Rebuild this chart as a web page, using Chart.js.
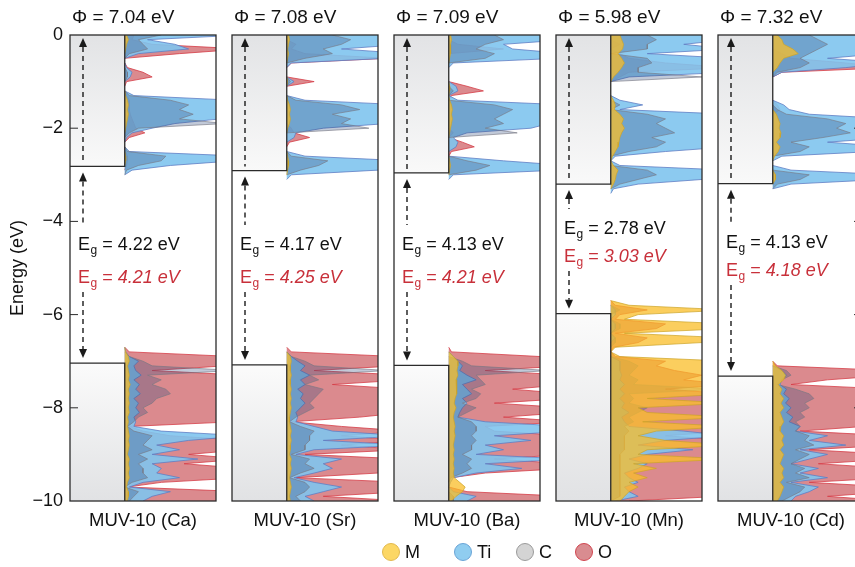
<!DOCTYPE html>
<html>
<head>
<meta charset="utf-8">
<script src="https://cdn.jsdelivr.net/npm/chart.js@4.4.1/dist/chart.umd.min.js"></script>
<style>
  body { margin: 0; width: 855px; height: 567px; overflow: hidden; position: relative; background: #fff;
         font-family: "Liberation Sans", Arial, Helvetica, sans-serif; color: #111; }
  canvas { position: absolute; top: 0; }
  .lg { position: absolute; top: 541px; height: 22px; line-height: 22px; font-size: 18px; display: flex; align-items: center; }
  .dot { display: inline-block; width: 16px; height: 16px; border-radius: 50%; border: 1.5px solid; margin-right: 5px; }
</style>
</head>
<body>
<canvas id="p0" width="218" height="567" style="left:0px"></canvas>
<canvas id="p1" width="150" height="567" style="left:230px"></canvas>
<canvas id="p2" width="150" height="567" style="left:392px"></canvas>
<canvas id="p3" width="150" height="567" style="left:554px"></canvas>
<canvas id="p4" width="150" height="567" style="left:716px"></canvas>

<div class="lg" style="left:382px"><span class="dot" style="background:#fcd765;border-color:#e2b94f"></span>M</div>
<div class="lg" style="left:454px"><span class="dot" style="background:#90cdf0;border-color:#6aa4d6"></span>Ti</div>
<div class="lg" style="left:516px"><span class="dot" style="background:#d4d4d4;border-color:#9a9a9a"></span>C</div>
<div class="lg" style="left:575px"><span class="dot" style="background:#d98c90;border-color:#d0454f"></span>O</div>

<script>
const FONT = '"Liberation Sans", Arial, Helvetica, sans-serif';

// energy grid (eV), shared by every DOS series
const energy = [
  0, -0.1, -0.2, -0.3, -0.4, -0.5, -0.6, -0.7, -0.8, -0.9,
  -1, -1.1, -1.2, -1.3, -1.4, -1.5, -1.6, -1.7, -1.8, -1.9,
  -2, -2.1, -2.2, -2.3, -2.4, -2.5, -2.6, -2.7, -2.8, -2.9,
  -3, -3.1, -3.2, -3.3, -3.4, -3.5, -3.6, -3.7, -3.8, -3.9,
  -4, -4.1, -4.2, -4.3, -4.4, -4.5, -4.6, -4.7, -4.8, -4.9,
  -5, -5.1, -5.2, -5.3, -5.4, -5.5, -5.6, -5.7, -5.8, -5.9,
  -6, -6.1, -6.2, -6.3, -6.4, -6.5, -6.6, -6.7, -6.8, -6.9,
  -7, -7.1, -7.2, -7.3, -7.4, -7.5, -7.6, -7.7, -7.8, -7.9,
  -8, -8.1, -8.2, -8.3, -8.4, -8.5, -8.6, -8.7, -8.8, -8.9,
  -9, -9.1, -9.2, -9.3, -9.4, -9.5, -9.6, -9.7, -9.8, -9.9,
  -10
];

const panelNames = ['MUV-10 (Ca)', 'MUV-10 (Sr)', 'MUV-10 (Ba)', 'MUV-10 (Mn)', 'MUV-10 (Cd)'];
const workFunction = [7.04, 7.08, 7.09, 5.98, 7.32];
const gapCalc = [4.22, 4.17, 4.13, 2.78, 4.13];
const gapExp = [4.21, 4.25, 4.21, 3.03, 4.18];
const vbEdge = [-7.04, -7.08, -7.09, -5.98, -7.32];
const cbEdge = [-2.82, -2.91, -2.96, -3.20, -3.19];
const yTicks = [0, -2, -4, -6, -8, -10];

// projected DOS (arbitrary units, 100 = full panel width)
const caM = [
  2,4,2,1,0,0,0,0,0,0, 0,0,0,1,3,4,3,4,3,2, 1,0,0,0,0,0,1,1,0,0,
  0,0,0,0,0,0,0,0,0,0, 0,0,0,0,0,0,0,0,0,0, 0,0,0,0,0,0,0,0,0,0,
  0,0,0,0,0,0,0,0,1,4, 5,3,4,5,4,6,4,5,4,5, 4,5,3,4,3,4,5,4,5,4,
  3,5,4,5,4,5,3,2,4,4, 3];
const caTi = [
  130,25,55,70,15,0,0,2,8,6, 0,0,0,10,120,130,125,110,105,55, 30,8,2,0,0,5,130,120,50,8,
  0,0,0,0,0,0,0,0,0,0, 0,0,0,0,0,0,0,0,0,0, 0,0,0,0,0,0,0,0,0,0,
  0,0,0,0,0,0,0,0,1,5, 15,10,12,18,10,16,12,17,10,15, 12,16,10,12,10,40,130,70,35,60,
  30,80,30,40,35,60,20,5,50,30, 20];
const caC = [
  40,15,20,25,5,0,0,0,3,3, 0,0,0,5,50,70,60,75,60,110, 15,5,0,0,0,3,45,40,15,2,
  0,0,0,0,0,0,0,0,0,0, 0,0,0,0,0,0,0,0,0,0, 0,0,0,0,0,0,0,0,0,0,
  0,0,0,0,0,0,0,0,0,5, 20,30,120,25,40,30,45,50,35,30, 20,25,15,10,3,10,30,25,20,30,
  15,25,15,20,20,25,8,0,15,10, 5];
const caO = [
  10,8,30,130,60,0,0,3,20,30, 2,0,0,2,5,5,5,6,8,10, 12,22,5,0,0,1,3,3,2,0,
  0,0,0,0,0,0,0,0,0,0, 0,0,0,0,0,0,0,0,0,0, 0,0,0,0,0,0,0,0,0,0,
  0,0,0,0,0,0,0,0,5,120, 130,110,30,130,130,130,130,130,130,130, 130,130,130,120,5,20,50,130,130,130,
  70,130,65,130,130,130,40,3,130,130, 130];

const srM = [
  2,3,2,1,2,1,0,0,0,0, 1,0,0,0,1,3,4,3,4,3, 1,0,0,0,0,0,1,2,2,1,
  0,0,0,0,0,0,0,0,0,0, 0,0,0,0,0,0,0,0,0,0, 0,0,0,0,0,0,0,0,0,0,
  0,0,0,0,0,0,0,0,0,4, 5,4,4,5,4,4,5,4,5,4, 5,4,3,3,4,5,4,5,4,4,
  3,5,4,5,4,3,4,5,4,3, 4];
const srTi = [
  130,130,130,60,130,110,5,0,0,0, 8,0,0,0,20,130,130,120,130,110, 40,10,8,0,0,0,20,130,130,100,
  5,0,0,0,0,0,0,0,0,0, 0,0,0,0,0,0,0,0,0,0, 0,0,0,0,0,0,0,0,0,0,
  0,0,0,0,0,0,0,0,0,5, 12,20,15,25,15,20,12,18,15,20, 15,10,12,10,30,50,130,40,130,30,
  10,60,40,50,30,8,30,60,40,20, 30];
const srC = [
  50,70,60,40,50,20,0,0,0,0, 4,0,0,0,10,60,80,50,70,60, 90,0,0,0,0,0,5,45,35,15,
  0,0,0,0,0,0,0,0,0,0, 0,0,0,0,0,0,0,0,0,0, 0,0,0,0,0,0,0,0,0,0,
  0,0,0,0,0,0,0,0,0,5, 20,30,110,25,35,20,40,35,30,25, 30,20,10,3,15,30,25,25,20,20,
  5,25,20,30,15,3,20,25,20,10, 15];
const srO = [
  0,0,10,5,20,110,5,0,0,0, 30,0,0,0,0,0,0,0,0,0, 5,8,25,3,0,0,0,0,0,0,
  0,0,0,0,0,0,0,0,0,0, 0,0,0,0,0,0,0,0,0,0, 0,0,0,0,0,0,0,0,0,0,
  0,0,0,0,0,0,0,0,5,120, 130,120,30,130,130,50,130,130,130,130, 130,130,80,5,60,130,60,130,60,130,
  20,130,130,130,100,10,130,130,130,40, 130];

const baM = [
  2,3,2,2,2,1,0,0,0,0, 0,1,1,0,1,3,4,3,4,3, 2,1,0,0,0,0,0,1,2,1,
  0,0,0,0,0,0,0,0,0,0, 0,0,0,0,0,0,0,0,0,0, 0,0,0,0,0,0,0,0,0,0,
  0,0,0,0,0,0,0,0,0,5, 10,10,9,10,8,9,8,9,7,6, 8,6,5,6,7,6,7,6,5,6,
  5,6,5,6,5,6,12,18,15,8, 3];
const baTi = [
  130,130,60,70,130,120,5,0,0,0, 0,8,10,0,10,130,130,125,130,110, 90,20,5,10,8,0,0,60,130,120,
  5,0,0,0,0,0,0,0,0,0, 0,0,0,0,0,0,0,0,0,0, 0,0,0,0,0,0,0,0,0,0,
  0,0,0,0,0,0,0,0,0,5, 10,15,12,20,30,15,20,25,15,20, 15,12,10,40,130,130,50,90,40,60,
  30,130,40,80,30,5,2,0,5,30, 20];
const baC = [
  50,60,40,30,50,40,0,0,0,0, 0,0,5,0,0,50,70,60,50,60, 40,75,0,0,0,0,0,20,45,30,
  0,0,0,0,0,0,0,0,0,0, 0,0,0,0,0,0,0,0,0,0, 0,0,0,0,0,0,0,0,0,0,
  0,0,0,0,0,0,0,0,0,0, 15,25,110,30,35,40,25,35,30,15, 30,20,10,25,30,30,25,30,25,25,
  15,25,20,25,15,2,0,0,0,5, 5];
const baO = [
  0,0,10,60,0,0,0,0,0,0, 0,20,38,3,0,0,0,0,0,0, 0,5,0,15,28,3,0,0,0,0,
  0,0,0,0,0,0,0,0,0,0, 0,0,0,0,0,0,0,0,0,0, 0,0,0,0,0,0,0,0,0,0,
  0,0,0,0,0,0,0,0,3,100, 130,130,40,130,130,130,70,130,130,50, 130,130,60,130,40,50,130,130,130,130,
  130,50,130,130,40,3,0,0,20,130, 130];

const mnM = [
  10,12,14,13,8,12,15,12,8,3, 0,0,0,0,3,5,4,10,14,12, 15,12,10,9,8,5,2,0,3,8,
  6,5,3,0,0,0,0,0,0,0, 0,0,0,0,0,0,0,0,0,0, 0,0,0,0,0,0,0,0,20,130,
  30,15,130,130,15,130,100,5,0,10, 130,130,130,130,130,130,130,130,40,130, 30,40,130,35,130,50,30,60,130,40,
  30,130,25,50,25,40,20,30,20,15, 10];
const mnTi = [
  120,130,80,130,40,130,130,110,130,20, 0,0,0,0,10,35,10,130,130,125, 130,130,130,120,130,60,5,0,10,130,
  130,100,30,3,0,0,0,0,0,0, 0,0,0,0,0,0,0,0,0,0, 0,0,0,0,0,0,0,0,0,5,
  5,0,5,5,0,5,0,0,0,0, 10,10,10,12,10,15,10,15,10,15, 12,20,12,15,20,80,130,60,30,90,
  40,20,40,30,15,20,30,15,20,30, 5];
const mnC = [
  40,50,40,40,0,40,45,30,30,100, 0,0,0,0,0,10,0,40,60,50, 60,70,45,60,50,20,0,0,0,40,
  50,30,10,0,0,0,0,0,0,0, 0,0,0,0,0,0,0,0,0,0, 0,0,0,0,0,0,0,0,0,10,
  0,0,10,10,0,5,5,0,0,0, 20,30,25,20,30,25,120,20,25,20, 40,30,20,25,15,20,15,15,15,15,
  10,10,10,10,10,10,10,10,10,10, 0];
const mnO = [
  0,0,10,0,10,20,60,130,20,10, 0,0,0,0,0,0,0,0,0,0, 0,0,0,0,0,0,0,0,0,0,
  0,0,0,0,0,0,0,0,0,0, 0,0,0,0,0,0,0,0,0,0, 0,0,0,0,0,0,0,0,5,40,
  10,5,60,50,5,40,30,3,0,5, 60,50,70,100,80,130,60,130,130,130, 130,130,130,130,130,130,60,130,130,130,
  130,130,130,130,130,130,130,130,130,120, 20];

const cdM = [
  5,10,12,22,28,12,8,5,0,0, 0,0,0,0,0,0,0,4,6,8, 7,9,8,4,8,6,2,0,0,0,
  3,3,0,0,0,0,0,0,0,0, 0,0,0,0,0,0,0,0,0,0, 0,0,0,0,0,0,0,0,0,0,
  0,0,0,0,0,0,0,0,0,0, 0,3,10,14,12,6,10,8,12,9, 12,8,10,12,9,8,12,10,12,8,
  12,10,8,12,10,12,8,12,10,8, 5];
const cdTi = [
  130,130,100,130,120,60,130,80,10,0, 0,0,0,0,0,12,18,40,130,125, 130,120,130,60,130,110,10,0,0,20,
  130,120,20,0,0,0,0,0,0,0, 0,0,0,0,0,0,0,0,0,0, 0,0,0,0,0,0,0,0,0,0,
  0,0,0,0,0,0,0,0,0,0, 0,0,10,15,10,8,15,12,18,14, 20,15,22,18,30,25,60,40,80,30,
  60,40,20,50,30,60,20,50,40,25, 20];
const cdC = [
  40,50,60,50,40,30,40,30,5,0, 0,0,0,0,0,0,5,15,60,80, 70,85,55,20,40,30,0,0,0,0,
  40,30,5,0,0,0,0,0,0,0, 0,0,0,0,0,0,0,0,0,0, 0,0,0,0,0,0,0,0,0,0,
  0,0,0,0,0,0,0,0,0,0, 0,0,15,20,10,5,25,40,45,35, 40,30,35,25,30,25,40,35,45,25,
  40,30,20,35,25,40,15,35,30,20, 10];
const cdO = [
  0,0,0,0,10,20,80,130,10,0, 0,0,0,0,0,5,8,0,0,0, 0,0,0,0,0,0,0,0,0,0,
  0,0,0,0,0,0,0,0,0,0, 0,0,0,0,0,0,0,0,0,0, 0,0,0,0,0,0,0,0,0,0,
  0,0,0,0,0,0,0,0,0,0, 0,5,130,130,60,20,130,130,130,130, 130,130,130,130,100,30,130,130,130,40,
  130,130,50,130,130,130,40,130,130,60, 130];

const pdos = [
  { M: caM, Ti: caTi, C: caC, O: caO },
  { M: srM, Ti: srTi, C: srC, O: srO },
  { M: baM, Ti: baTi, C: baC, O: baO },
  { M: mnM, Ti: mnTi, C: mnC, O: mnO },
  { M: cdM, Ti: cdTi, C: cdC, O: cdO }
];

// styling; first entry is drawn on top
const species = ['M', 'C', 'Ti', 'O'];
const fillColor = {
  M: 'rgba(250,190,40,0.75)',
  Ti: 'rgba(128,196,238,0.9)',
  C: 'rgba(50,75,125,0.3)',
  O: 'rgb(219,138,142)'
};
const lineColor = {
  M: 'rgba(205,165,40,0.9)',
  Ti: 'rgb(96,126,196)',
  C: 'rgba(120,120,130,0.8)',
  O: 'rgb(214,62,72)'
};
const labelY = [[245, 278], [245, 278], [245, 278], [229, 257], [243, 271]];

function drawEg(ctx, x, y, value, color, italic) {
  ctx.fillStyle = color;
  ctx.textAlign = 'left';
  ctx.textBaseline = 'middle';
  ctx.font = '18px ' + FONT;
  ctx.fillText('E', x, y);
  x += ctx.measureText('E').width;
  ctx.font = '12px ' + FONT;
  ctx.fillText('g', x + 0.5, y + 6);
  x += ctx.measureText('g').width + 0.5;
  ctx.font = '18px ' + FONT;
  ctx.fillText(' = ', x, y);
  x += ctx.measureText(' = ').width;
  ctx.font = (italic ? 'italic ' : '') + '18px ' + FONT;
  ctx.fillText(value.toFixed(2) + ' eV', x, y);
}

function dashed(ctx, x, y1, y2) {
  ctx.setLineDash([5, 4]);
  ctx.beginPath();
  ctx.moveTo(x, y1);
  ctx.lineTo(x, y2);
  ctx.stroke();
  ctx.setLineDash([]);
}

function head(ctx, x, tip, dir) {
  ctx.beginPath();
  ctx.moveTo(x, tip);
  ctx.lineTo(x - 4, tip - dir * 9);
  ctx.lineTo(x + 4, tip - dir * 9);
  ctx.closePath();
  ctx.fill();
}

const panelPlugin = {
  id: 'panel',
  beforeDatasetsDraw(chart, args, opts) {
    const { ctx, chartArea: a, scales: { x, y } } = chart;
    const i = opts.index;
    const x0 = x.getPixelForValue(0);
    const yTop = y.getPixelForValue(0), yBot = y.getPixelForValue(-10);
    const yc = y.getPixelForValue(cbEdge[i]), yv = y.getPixelForValue(vbEdge[i]);
    ctx.save();
    let g = ctx.createLinearGradient(0, yTop, 0, yc);
    g.addColorStop(0, '#e2e3e5');
    g.addColorStop(1, '#f9f9f9');
    ctx.fillStyle = g;
    ctx.fillRect(a.left, yTop, x0 - a.left, yc - yTop);
    g = ctx.createLinearGradient(0, yv, 0, yBot);
    g.addColorStop(0, '#fbfbfb');
    g.addColorStop(1, '#e1e2e4');
    ctx.fillStyle = g;
    ctx.fillRect(a.left, yv, x0 - a.left, yBot - yv);
    ctx.restore();
  },
  afterDatasetsDraw(chart, args, opts) {
    const { ctx, chartArea: a, scales: { x, y } } = chart;
    const i = opts.index;
    const x0 = x.getPixelForValue(0);
    const yTop = y.getPixelForValue(0), yBot = y.getPixelForValue(-10);
    const yc = y.getPixelForValue(cbEdge[i]), yv = y.getPixelForValue(vbEdge[i]);
    ctx.save();
    ctx.strokeStyle = '#2b2b2b';
    ctx.lineWidth = 1.3;
    ctx.strokeRect(a.left, a.top, a.right - a.left, a.bottom - a.top);
    ctx.beginPath();
    ctx.moveTo(a.left, yc); ctx.lineTo(x0, yc); ctx.lineTo(x0, yTop);
    ctx.moveTo(a.left, yv); ctx.lineTo(x0, yv); ctx.lineTo(x0, yBot);
    ctx.stroke();

    // inward ticks on the outer axes
    ctx.lineWidth = 1;
    yTicks.slice(1, -1).forEach(t => {
      const py = y.getPixelForValue(t);
      ctx.beginPath();
      if (i === 0) { ctx.moveTo(a.left, py); ctx.lineTo(a.left + 8, py); }
      if (i === panelNames.length - 1) { ctx.moveTo(a.right, py); ctx.lineTo(a.right - 10, py); }
      ctx.stroke();
    });

    // arrows
    const ax = a.left + 13;
    const [by, ry] = labelY[i];
    ctx.strokeStyle = '#1a1a1a';
    ctx.fillStyle = '#1a1a1a';
    ctx.lineWidth = 1.4;
    head(ctx, ax, yTop + 3, -1);
    dashed(ctx, ax, yTop + 12, yc - 4);
    head(ctx, ax, yc + 6, -1);
    dashed(ctx, ax, yc + 15, by - 20);
    dashed(ctx, ax, ry + 14, yv - 14);
    head(ctx, ax, yv - 5, 1);

    // texts
    ctx.fillStyle = '#111';
    ctx.font = '19px ' + FONT;
    ctx.textBaseline = 'middle';
    ctx.textAlign = 'left';
    ctx.fillText('\u03a6 = ' + workFunction[i].toFixed(2) + ' eV', a.left + 2, 18);
    drawEg(ctx, a.left + 8, by, gapCalc[i], '#111', false);
    drawEg(ctx, a.left + 8, ry, gapExp[i], '#c8303a', true);
    ctx.fillStyle = '#111';
    ctx.font = '18.5px ' + FONT;
    ctx.textAlign = 'center';
    ctx.fillText(panelNames[i], (a.left + a.right) / 2, 521);
    ctx.restore();
  }
};

// hide outline segments that run along the baseline between bands
const hideFlat = c => (c.p0.parsed.x === 0 && c.p1.parsed.x === 0) ? 'rgba(0,0,0,0)' : undefined;

function makePanel(i) {
  const first = i === 0;
  const datasets = species.map(s => ({
    label: s,
    data: energy.map((e, k) => ({ x: pdos[i][s][k], y: e })),
    backgroundColor: fillColor[s],
    borderColor: lineColor[s],
    borderWidth: 0.8,
    fill: 'origin',
    pointRadius: 0,
    tension: 0,
    segment: { borderColor: hideFlat }
  }));
  const yAxis = {
    type: 'linear', min: -10, max: 0, display: first, position: 'left',
    grid: { display: false, drawTicks: false },
    border: { display: false },
    ticks: {
      stepSize: 2, padding: 7, color: '#111',
      font: { family: FONT, size: 18 },
      callback: v => v === 0 ? '0' : '\u2212' + Math.abs(v)
    },
    title: {
      display: true, text: 'Energy (eV)', color: '#111',
      font: { family: FONT, size: 18 }, padding: { top: 7, bottom: 0 }
    }
  };
  if (first) yAxis.afterFit = s => { s.width = 70; };
  return new Chart(document.getElementById('p' + i), {
    type: 'line',
    data: { datasets },
    options: {
      indexAxis: 'y',
      responsive: false,
      animation: false,
      events: [],
      layout: { padding: { top: 35, bottom: 66, left: first ? 0 : 2, right: 2 } },
      scales: {
        x: { type: 'linear', min: -60, max: 100, display: false },
        y: yAxis
      },
      plugins: {
        legend: { display: false },
        tooltip: { enabled: false },
        panel: { index: i }
      }
    },
    plugins: [panelPlugin]
  });
}

panelNames.forEach((name, i) => makePanel(i));
</script>
</body>
</html>
